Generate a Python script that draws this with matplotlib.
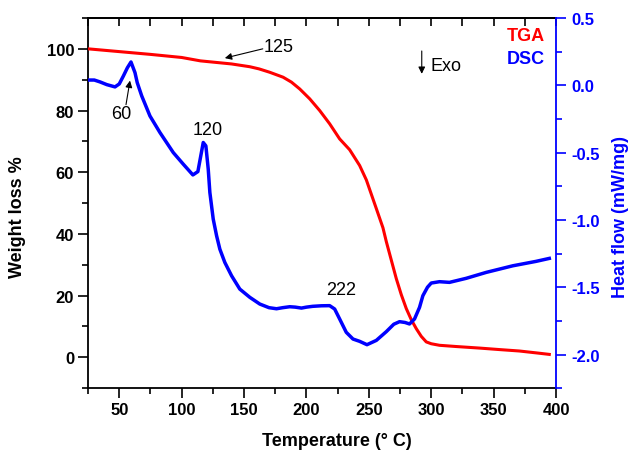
import numpy as np
import matplotlib
matplotlib.use('Agg')
import matplotlib.pyplot as plt
from matplotlib.ticker import MultipleLocator

plt.rcParams['font.family'] = ['Liberation Sans', 'DejaVu Sans']
plt.rcParams['axes.unicode_minus'] = False

# TGA: weight (%) vs temperature
temp_tga = [25, 50, 75, 100, 115, 125, 140, 154.6, 162, 170.6, 181.3, 188, 194.6,
            202.6, 210.6, 218.6, 226.6, 234.6, 242.6, 248, 256, 261.3, 264, 268, 272,
            276, 280, 284, 288, 292, 296, 300, 306.6, 320, 338.6, 355, 370.6, 385, 394.6]
weight_tga = [100, 99.1, 98.2, 97.2, 96.1, 95.7, 95.1, 94.2, 93.5, 92.4, 90.8, 89.2, 87.0,
              83.8, 80.0, 75.7, 70.8, 67.3, 62.2, 57.5, 48.2, 42.0, 37.5, 31.5, 25.5,
              20.3, 15.8, 12.2, 9.3, 6.8, 5.0, 4.4, 3.9, 3.5, 3.0, 2.5, 2.05, 1.4, 0.95]

# DSC: heat flow (mW/mg) vs temperature
temp_dsc = [25, 30, 34.6, 40, 46.6, 50, 53.3, 56.5, 59.4, 62.6, 64.4, 68, 74.6, 82.6,
            93.3, 101.3, 109, 113, 117.3, 119.4, 121.3, 122.6, 125.3, 128, 130.6, 134.6,
            140, 146.6, 154.6, 162.6, 170, 176, 181, 186.6, 191, 196, 200, 205, 212,
            218.6, 222.6, 226.6, 231.9, 237.3, 242.6, 248.5, 256, 264, 270, 274.6, 279,
            282.6, 286.6, 290.6, 293.3, 297, 300, 306.6, 314.6, 328, 344, 365.3, 384, 394.6]
heat_dsc = [0.039, 0.039, 0.025, 0.005, -0.012, 0.01, 0.069, 0.13, 0.173, 0.094, 0.02,
            -0.079, -0.228, -0.351, -0.50, -0.586, -0.666, -0.641, -0.425, -0.45, -0.623,
            -0.796, -0.994, -1.118, -1.217, -1.316, -1.415, -1.514, -1.575, -1.625, -1.652,
            -1.66, -1.652, -1.645, -1.648, -1.655, -1.648, -1.642, -1.638, -1.637, -1.662,
            -1.736, -1.835, -1.885, -1.902, -1.927, -1.895, -1.83, -1.775, -1.756, -1.762,
            -1.773, -1.736, -1.65, -1.563, -1.50, -1.469, -1.459, -1.464, -1.434, -1.39,
            -1.341, -1.308, -1.286]

fig = plt.figure(figsize=(6.29, 4.52), dpi=100)
ax1 = fig.add_axes([0.140, 0.139, 0.744, 0.819])
ax2 = ax1.twinx()

ax1.plot(temp_tga, weight_tga, color='#ff0000', lw=2.2, zorder=3,
         solid_joinstyle='round')
ax2.plot(temp_dsc, heat_dsc, color='#0000ff', lw=2.5, zorder=3,
         solid_joinstyle='round')

ax1.set_xlim(25, 400)
ax1.set_ylim(-10, 110)
ax2.set_ylim(-2.25, 0.5)

ax1.xaxis.set_major_locator(MultipleLocator(50))
ax1.xaxis.set_minor_locator(MultipleLocator(25))
ax1.yaxis.set_major_locator(MultipleLocator(20))
ax1.yaxis.set_minor_locator(MultipleLocator(10))
ax2.yaxis.set_major_locator(MultipleLocator(0.5))
ax2.yaxis.set_minor_locator(MultipleLocator(0.25))
ax2.yaxis.set_major_formatter(lambda v, p: '%.1f' % v)

for sp in ax1.spines.values():
    sp.set_linewidth(1.3)
ax1.spines['right'].set_visible(False)
ax2.spines['left'].set_visible(False)
ax2.spines['top'].set_visible(False)
ax2.spines['bottom'].set_visible(False)
ax2.spines['right'].set_color('#0000ff')
ax2.spines['right'].set_linewidth(1.3)

ax1.tick_params(axis='both', which='major', direction='out', length=7, width=1.2,
                labelsize=12, pad=3)
ax1.tick_params(axis='both', which='minor', direction='out', length=4, width=1.2)
ax2.tick_params(axis='y', which='major', direction='out', length=7, width=1.2,
                labelsize=12, colors='#0000ff', pad=4)
ax2.tick_params(axis='y', which='minor', direction='out', length=4, width=1.2,
                colors='#0000ff')
for lab in ax1.get_xticklabels() + ax1.get_yticklabels() + ax2.get_yticklabels():
    lab.set_fontweight('bold')

# top axis: inward ticks every 25, no labels
top = ax1.secondary_xaxis('top')
top.xaxis.set_major_locator(MultipleLocator(25))
top.tick_params(direction='in', length=6, width=1.2, labeltop=False)
top.spines['top'].set_linewidth(1.3)

ax1.set_xlabel('Temperature (° C)', fontsize=13, fontweight='bold', va='center')
ax1.xaxis.set_label_coords(0.532, -0.142)
ax1.set_ylabel('Weight loss %', fontsize=13, fontweight='bold', va='center')
ax1.yaxis.set_label_coords(-0.150, 0.465)
ax2.set_ylabel('Heat flow (mW/mg)', fontsize=13, fontweight='bold', color='#0000ff',
               va='center', rotation=90)
ax2.yaxis.set_label_coords(1.137, 0.465)

arrow = dict(arrowstyle='-|>', color='black', lw=0.8, mutation_scale=10,
             shrinkA=0, shrinkB=0)
ax1.annotate('', xy=(134.6, 97.0), xytext=(165, 100.0), arrowprops=arrow)
ax1.text(178, 100.6, '125', fontsize=13, ha='center', va='center')
ax1.annotate('', xy=(58.6, 89.7), xytext=(55.4, 81.9), arrowprops=arrow)
ax1.text(51.4, 79, '60', fontsize=13, ha='center', va='center')
ax1.text(121, 74, '120', fontsize=13, ha='center', va='center')
ax1.text(228, 21.9, '222', fontsize=13, ha='center', va='center')
ax1.annotate('', xy=(292.4, 91.9), xytext=(292.4, 99.3), arrowprops=arrow)
ax1.text(299.4, 94.6, 'Exo', fontsize=13, ha='left', va='center')

ax1.text(391, 104.3, 'TGA', fontsize=13, fontweight='bold', color='#ff0000',
         ha='right', va='center')
ax1.text(391, 96.8, 'DSC', fontsize=13, fontweight='bold', color='#0000ff',
         ha='right', va='center')

fig.savefig('out.png', dpi=100)
